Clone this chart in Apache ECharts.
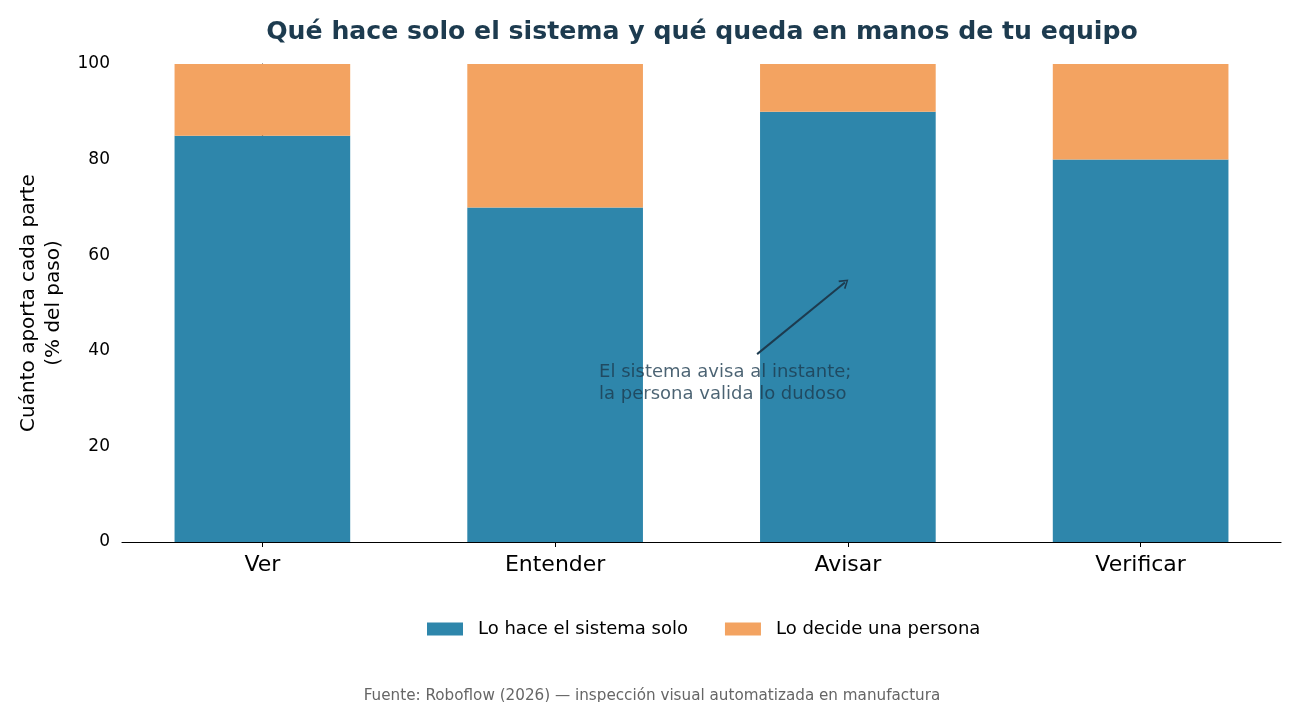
<!DOCTYPE html>
<html>
<head>
<meta charset="utf-8">
<script src="https://cdn.jsdelivr.net/npm/echarts@6/dist/echarts.min.js"></script>
<style>
  html, body { margin: 0; padding: 0; background: #fff; }
  #chart { width: 1300px; height: 702px; }
</style>
</head>
<body>
<div id="chart"></div>
<script>
const categories = ['Ver', 'Entender', 'Avisar', 'Verificar']
const systemShare = [85, 70, 90, 80]
const personShare = [15, 30, 10, 20]
const seriesNames = ['Lo hace el sistema solo', 'Lo decide una persona']
const noteText = 'El sistema avisa al instante;\nla persona valida lo dudoso'
const notePos = [1.15, 37.8]
const arrowFrom = [1.69, 39.3]
const arrowTo = [1.99, 54.3]

const ink = '#1d3b4f'
const font = 'DejaVu Sans'
// chevron (open arrow head), tip at top
const chevron = 'path://M0,10 L5,0 L10,10 L8.6,10.9 L5,3 L1.4,10.9 Z'

const chart = echarts.init(document.getElementById('chart'), null, { renderer: 'canvas' })

const option = {
  backgroundColor: '#fff',
  animation: false,
  textStyle: { fontFamily: font },
  title: [{
    text: 'Qué hace solo el sistema y qué queda en manos de tu equipo',
    left: 697, top: 15, textAlign: 'center',
    textStyle: { fontFamily: font, fontSize: 25.2, fontWeight: 'bold', color: ink }
  }, {
    text: 'Fuente: Roboflow (2026) — inspección visual automatizada en manufactura',
    left: 647, top: 684, textAlign: 'center',
    textStyle: { fontFamily: font, fontSize: 15.2, fontWeight: 'normal', color: '#666' }
  }],
  legend: {
    data: seriesNames,
    top: 620, left: 427, padding: 0,
    itemWidth: 36, itemHeight: 13, itemGap: 37,
    icon: 'rect',
    textStyle: { fontFamily: font, fontSize: 18, color: '#000', padding: [0, 0, 0, 10] }
  },
  grid: [
    // bars: category bands sized like matplotlib's padded x range
    { left: 116, width: 1171, top: 64, height: 478 },
    // visible spines
    { left: 122, width: 1159, top: 64, height: 478 }
  ],
  xAxis: [{
    type: 'category', gridIndex: 0, data: categories,
    axisLine: { show: false },
    axisTick: { show: true, alignWithLabel: true, length: 5, lineStyle: { color: '#000' } },
    axisLabel: { fontFamily: font, fontSize: 22, color: '#000', margin: 12 }
  }, {
    type: 'value', gridIndex: 1, min: -0.48, max: 3.48,
    axisLine: { show: true, lineStyle: { color: '#000', width: 1.2 } },
    axisTick: { show: false }, axisLabel: { show: false }, splitLine: { show: false }
  }],
  yAxis: [{
    type: 'value', gridIndex: 0, min: 0, max: 100, show: false
  }, {
    type: 'value', gridIndex: 1, min: 0, max: 100, interval: 20,
    name: 'Cuánto aporta cada parte\n(% del paso)',
    nameLocation: 'middle', nameGap: 50,
    nameTextStyle: { fontFamily: font, fontSize: 20, color: '#000', lineHeight: 25 },
    axisLine: { show: true, lineStyle: { color: '#000', width: 1.2 } },
    axisTick: { show: true, length: 5, lineStyle: { color: '#000' } },
    axisLabel: { fontFamily: font, fontSize: 17, color: '#000', margin: 12 },
    splitLine: { show: false }
  }],
  series: [{
    name: seriesNames[0], type: 'bar', stack: 'total',
    xAxisIndex: 0, yAxisIndex: 0, barWidth: '60%',
    itemStyle: { color: '#2e86ab' },
    data: systemShare
  }, {
    name: seriesNames[1], type: 'bar', stack: 'total',
    xAxisIndex: 0, yAxisIndex: 0, barWidth: '60%',
    itemStyle: { color: '#f3a361' },
    data: personShare
  }, {
    name: 'nota', type: 'scatter', xAxisIndex: 1, yAxisIndex: 1,
    symbolSize: 0, silent: true, z: 10,
    data: [notePos],
    label: {
      show: true, position: 'inside', formatter: noteText,
      align: 'left', verticalAlign: 'top', offset: [0, 0],
      fontFamily: font, fontSize: 18, lineHeight: 22, color: ink
    },
    markLine: {
      silent: true, symbol: ['none', chevron], symbolSize: [11, 9],
      lineStyle: { color: ink, width: 2, type: 'solid' },
      label: { show: false },
      data: [[{ coord: arrowFrom }, { coord: arrowTo }]]
    }
  }]
}

chart.setOption(option)
</script>
</body>
</html>
